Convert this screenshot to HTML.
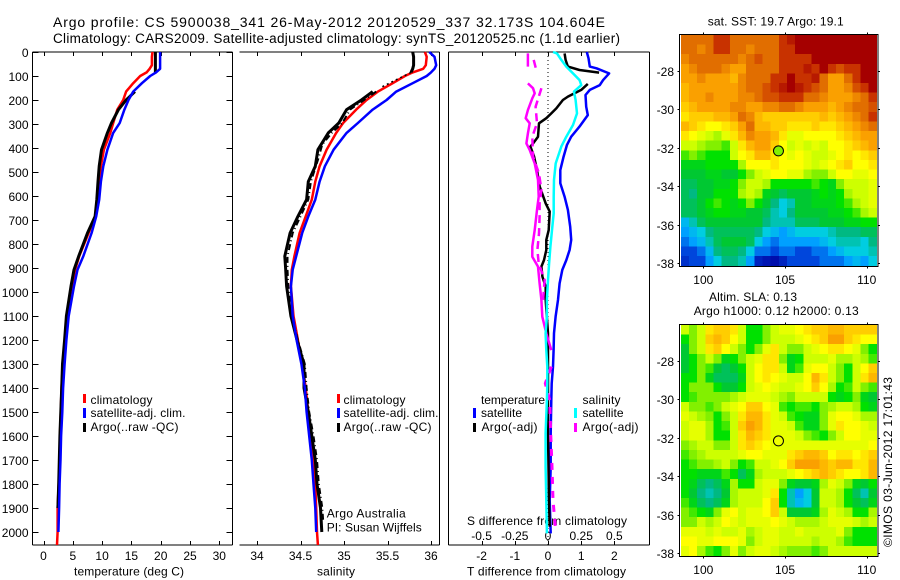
<!DOCTYPE html>
<html><head><meta charset="utf-8"><title>Argo profile</title>
<style>
html,body{margin:0;padding:0;background:#fff;width:900px;height:580px;overflow:hidden}
svg{display:block}
text{font-family:"Liberation Sans",sans-serif;font-size:12px;fill:#000}
</style></head>
<body>
<svg id="fig" xmlns="http://www.w3.org/2000/svg" width="900" height="580" viewBox="0 0 900 580">
<text x="53" y="27" style="font-size:14px" textLength="552" lengthAdjust="spacing">Argo profile: CS 5900038_341 26-May-2012 20120529_337 32.173S 104.604E</text>
<text x="53" y="43" style="font-size:13.5px" textLength="567" lengthAdjust="spacing">Climatology: CARS2009. Satellite-adjusted climatology: synTS_20120525.nc (1.1d earlier)</text>
<text x="74" y="575.5" textLength="110" lengthAdjust="spacing">temperature (deg C)</text>
<text x="317" y="575.5" textLength="38" lengthAdjust="spacing">salinity</text>
<text x="467" y="575.5" textLength="159" lengthAdjust="spacing">T difference from climatology</text>
<text x="467" y="525" textLength="160" lengthAdjust="spacing">S difference from climatology</text>
<text x="90.5" y="404" textLength="62" lengthAdjust="spacing">climatology</text>
<text x="90.5" y="417" textLength="95" lengthAdjust="spacing">satellite-adj. clim.</text>
<text x="90.5" y="431" textLength="88" lengthAdjust="spacing">Argo(..raw -QC)</text>
<rect x="83" y="394" width="3" height="9" fill="#f00"/>
<rect x="83" y="408" width="3" height="10" fill="#00f"/>
<rect x="83" y="423" width="3" height="9" fill="#000"/>
<text x="343.5" y="404" textLength="62" lengthAdjust="spacing">climatology</text>
<text x="343.5" y="417" textLength="95" lengthAdjust="spacing">satellite-adj. clim.</text>
<text x="343.5" y="431" textLength="88" lengthAdjust="spacing">Argo(..raw -QC)</text>
<rect x="337" y="394" width="3" height="9" fill="#f00"/>
<rect x="337" y="408" width="3" height="10" fill="#00f"/>
<rect x="337" y="423" width="3" height="9" fill="#000"/>
<text x="326.7" y="517.5" textLength="79" lengthAdjust="spacing">Argo Australia</text>
<text x="326.7" y="531.5" textLength="95" lengthAdjust="spacing">PI: Susan Wijffels</text>
<text x="481" y="404" textLength="64" lengthAdjust="spacing">temperature</text>
<text x="481" y="417" textLength="41" lengthAdjust="spacing">satellite</text>
<text x="481.5" y="431" textLength="56" lengthAdjust="spacing">Argo(-adj)</text>
<text x="582.5" y="404" textLength="38" lengthAdjust="spacing">salinity</text>
<text x="582.5" y="417" textLength="41" lengthAdjust="spacing">satellite</text>
<text x="582.5" y="431" textLength="56" lengthAdjust="spacing">Argo(-adj)</text>
<rect x="473" y="408" width="3" height="10" fill="#00f"/>
<rect x="473" y="423" width="3" height="9" fill="#000"/>
<rect x="574" y="408" width="3" height="10" fill="#0ff"/>
<rect x="574" y="423" width="3" height="9" fill="#f0f"/>
<text x="707.7" y="25.5" textLength="136" lengthAdjust="spacing">sat. SST: 19.7 Argo: 19.1</text>
<text x="709" y="301" textLength="88" lengthAdjust="spacing">Altim. SLA: 0.13</text>
<text x="693.7" y="315" textLength="165" lengthAdjust="spacing">Argo h1000: 0.12 h2000: 0.13</text>
<text transform="translate(892,547) rotate(-90)" x="0" y="0" textLength="170" lengthAdjust="spacing">©IMOS 03-Jun-2012 17:01:43</text>
</svg>
<script>
// ---------- profile data ----------
const profileDepths = [0,20,55,70,85,100,130,165,200,240,296,337,407,476,540,615,685,754,851,907,976,1100,1200,1300,1400,1500,1600,1700,1800,1900,2000,2054];
const tempClim = [18.6,18.5,18.5,18.1,17.6,16.5,15.3,14.1,13.6,12.6,11.9,11.4,10.3,9.8,9.5,9.3,8.8,7.7,6.1,5.4,4.9,4.0,3.7,3.3,3.07,2.95,2.8,2.75,2.6,2.4,2.4,2.3];
const tempSat = [19.9,19.9,19.9,19.9,19.2,18.2,16.8,15.3,14.5,13.8,13.0,11.9,10.9,10.2,9.8,9.5,9.0,8.2,6.8,5.8,5.2,4.3,3.9,3.6,3.35,3.2,3.0,2.9,2.75,2.67,2.55,null];
const tempArgo = [19.1,19.1,19.1,19.1,19.1,null,null,15.6,14.1,12.8,11.6,10.9,9.9,9.5,9.3,9.1,8.8,7.5,6.0,5.2,4.7,3.9,3.6,3.25,3.1,2.95,2.8,2.7,2.6,2.45,null,null];
const salClim = [35.93,35.95,35.94,35.91,35.79,35.70,35.56,35.39,35.26,35.14,34.99,34.91,34.80,34.72,34.67,34.63,34.56,34.49,34.43,34.40,34.39,34.42,34.47,34.52,34.56,34.59,34.62,34.65,34.67,34.68,34.69,34.70];
const salSat = [35.98,36.04,36.06,36.04,36.00,35.95,35.79,35.60,35.49,35.33,35.16,35.03,34.88,34.78,34.72,34.67,34.59,34.52,34.45,34.41,34.39,34.41,34.455,34.51,34.55,34.57,34.60,34.63,34.65,34.67,34.68,null];
const salArgo = [35.79,35.80,35.80,35.79,35.77,null,null,35.33,35.20,35.03,34.94,34.82,34.70,34.67,34.59,34.57,34.47,34.38,34.32,34.33,34.34,34.39,34.46,34.54,34.54,34.59,34.63,34.67,34.69,34.73,34.745,null];
const salQcDepths = [165,200,240,296,337,385,450,540,615,685,754,851,907,976,1100,1200,1300,1400,1500,1600,1700,1800,1900,1950];
const salQc = [35.37,35.23,35.07,34.98,34.86,34.75,34.70,34.62,34.59,34.50,34.41,34.35,34.35,34.36,34.40,34.47,34.55,34.57,34.60,34.65,34.69,34.71,34.75,34.76];
const salRawDepths = [85,150];
const salRaw = [35.77,35.41];

const tdiffSatDepths = [0,26,61,68,89,117,138,158,179,228,263,311,353,388,436,492,547,603,658,728,783,825,867,908,964,1033,1103,1172,1242,1311,1381,1450,1589,1728,1867,2006];
const tdiffSat = [1.17,1.22,1.26,1.46,1.84,1.66,1.56,1.26,1.13,1.15,1.20,.95,.70,.57,.47,.37,.37,.50,.60,.67,.70,.65,.55,.43,.35,.30,.23,.18,.17,.15,.11,.10,.08,.08,.05,.08];
const tdiffArgoDepths = [6,33,61,75,86,110,133,158,186,200,235,256,276,297,353,381,394,436,492,561,631,665,742,783,825,867,894,936,978,1033,1172,1450,1589,1867,1978];
const tdiffArgo = [.50,.53,.60,.95,1.54,null,1.20,1.00,.60,.45,.25,.10,-.05,-.27,-.30,-.45,-.53,-.42,-.33,-.25,-.07,.05,.02,-.05,-.05,-.12,-.20,-.17,-.07,-.07,0,0,0,.03,.05];
const sdiffSatDepths = [0,6,33,61,89,117,138,165,200,256,304,353,394,464,533,603,672,742,811,881,950,1033,1103,1172,1242,1311,1381,1450,1589,1728,1867,2006];
const sdiffSat = [.038,.068,.10,.138,.188,.238,.251,.196,.208,.218,.188,.138,.10,.058,.045,.043,.043,.03,.018,.008,0,-.008,-.008,-.018,-.013,-.005,-.005,-.008,-.018,-.018,-.013,-.008];
const sdiffArgoDepths = [6,61,100,131,151,172,193,242,276,297,339,381,408,464,533,603,658,742,811,853,894,964,1033,1103,1172,1242];
const sdiffArgo = [-.151,-.151,null,-.151,-.113,-.10,-.118,-.151,-.168,-.138,-.151,-.163,-.138,-.10,-.075,-.07,-.083,-.10,-.118,-.118,-.075,-.063,-.05,-.043,-.013,.025];
const sdiffDeepDepths = [1311,1381,1450,1589,1728,1867,1978];
const sdiffDeep = [.025,-.02,.013,.02,.03,.038,.055];
const sdiffRawDepths = [33,75,117,151,228,297,353,436,506,575,631,686,756,825,881,950,1033];
const sdiffRaw = [-.108,-.088,null,-.05,-.093,-.083,-.118,-.113,-.068,-.05,-.063,-.063,-.068,-.08,-.07,-.025,-.038];

// ---------- tick labels ----------
const depthTicks = [0,100,200,300,400,500,600,700,800,900,1000,1100,1200,1300,1400,1500,1600,1700,1800,1900,2000];
const tempTicks = [0,5,10,15,20,25,30];
const salTicks = [34,34.5,35,35.5,36];
const tdiffTicks = [-2,-1,0,1,2];
const sdiffTicks = [-0.5,-0.25,0,0.25,0.5];
const lonTicks = [100,105,110];
const latTicks = [-28,-30,-32,-34,-36,-38];

// ---------- map data: colour level per 0.5 degree cell, north to south ----------
const gridLon0 = 98.87;
const gridLat0 = -26.39;
const gridStep = 0.5;
const argoLon = 104.6;
const argoLat = -32.17;
const sstArgoLevel = 7;
const slaArgoLevel = 8.7;
const sstLevels = [
[12,12,12,12,13,13,12,12,12,12,12,12,13,13.5,14,14,14,14,14,14,14,14,14,14],
[12,12,11.5,12,13,13,12,12,11.5,12,12,12,13,13,14,14,14,14,14,14,14,14,14,14],
[11.5,12,12,12,12,12,12,11.5,12,12.5,12,12,13,13,13,13,14,14,14,14,14,14,14,14],
[11,11.5,12,12,12,11.5,11,11,12,12,12,12,13,13,13,13.5,13,14,13,12.5,13,13,14,14],
[11,11,11.5,11,11,11,10.5,11.5,12,12,12,13,13,14,13,13,13.5,12,11,11,12,13,14,14],
[10.5,11,11,11,11,11,11,11.5,12,12,12.5,13,13.5,14,13.5,13,12.5,12,11,11,11.5,12.5,13,14],
[10.5,11,11,11.5,11,11,11,11.5,11.5,12,12.5,12.5,13,13,13,12,12,11.5,11,11,11,11.5,12,13],
[10,10.5,11,11,11,11,11.5,11.5,11,11,11.5,11.5,12,12,11.5,11,11,11,10.5,11,11.5,12,12,12.5],
[9.5,10,10,10,10.5,10.5,11,12,11.5,10.5,10,10,10,10,10,10,10,10.5,10,10.5,11,11.5,12,13],
[10.5,10,9.5,9,9,9.5,10,11,12,10.5,10.5,10,10,9.5,9.5,9.5,10,9.5,9.5,10,10.5,11,11.5,12],
[9.5,9,8.5,8,7.5,8.5,9.5,10.5,11.5,11,11,10.5,9.5,8.5,8.5,9,9,9,9,9.5,10,10.5,11,11],
[8,8,7.5,7,7,6.5,8,9.5,10.5,11,11,10,9,8,8.5,8,8.5,8,9,9,9.5,10,10.5,11],
[6.5,7,6.5,6,6,6,8,9,9.5,10.5,10.5,9.5,9,8.5,9,8.5,8,8,8.5,9,9.5,9,9.5,10],
[5.5,5.5,5.5,6,6,6,6,7.5,9,9,9,9.5,9,9,9,8.5,8,8.5,9,9.5,10,9,9,9.5],
[5,5,5,5.5,5.5,5,5,6,7,8,8.5,9,9,8.5,8.5,7.5,7,7,8,9,9,8.5,8.5,9],
[4.5,4.5,5,5,5.5,5.5,6,7,8,8,7.5,6,6,6,6,6,6.5,6,5.5,7,8,8,8,8.5],
[4.5,4,5,5,6,6,6,7.5,8,7.5,5.5,5,4.5,5,5,5,5.5,6,5.5,6,7.5,8,8,8.5],
[4.5,4.5,5,6,6.5,6,5.5,6,7,6,5,4,3,3.5,5,5,5.5,5.5,5.5,6,6.5,7.5,8,8.5],
[4.5,4.5,5,5.5,6,6,5.5,5.5,5,5,4.5,3.5,3,4,5,5,5,5,5.5,5.5,6,6.5,7.5,8],
[2.5,3.5,4.5,5,5,5,5,5,5,5,4,3.5,3.5,3.5,4.5,4.5,4.5,5,5,5,5.5,5.5,6,6],
[2,2.5,3,4,4.5,4.5,4.5,4.5,4.5,4,3,2.5,2,2.5,3,3,3,3,3.5,4,4,4,4.5,4.5],
[1.5,2,2.5,3.5,4.5,5,5,5,4.5,3,2,1.5,2,2,2,2,2,2.5,3,3.5,3.5,3.5,3,4],
[1,1,1.5,2.5,4,4.5,4.5,4,3,1.5,1.5,1,1.5,1.5,1,1,1.5,1.5,2,2.5,3,3,3,3.5],
[0.7,1,1,2,3,4,4,3.5,2,0.5,0.3,0.2,0.5,1,1,1,1,1.5,1.5,1.5,2,2.5,2,3]
];
const slaLevels = [
[8,7,8,9.5,10,10,9.5,8,6,6,7,8,8.5,8.5,9,9.5,10,10,10.5,10.5,10,10,10,10],
[6,7,8,10,10.5,10,9,8,6,6,7,8,8,8,8.5,9,9.5,10,11,11,10,9.5,9,9],
[5,7,8,9.5,10,9,8,7,6,7,8.5,9.5,8,7,7,8,8.5,9,9.5,9.5,9,8.5,7,6],
[5,6,7,8,7,5.5,6,7,8,8.5,9.5,9.5,7,5.5,6,8,8,8,8.5,7.5,7.5,8,7.5,6.5],
[5,6,7,6.5,5,4.5,5,6,8,9,9.5,9.5,8,5.5,6.5,8.5,9,9,8,7,6,8,9,10],
[6,6,7,5.5,4.5,4.5,4.5,5.5,8,9,9.5,9,8.5,8,8,9,10.5,9.5,8,7,6,8,9.5,10.5],
[6,7,7,7,6,5,5,6,8,8.5,9,8.5,8,8,8.5,9,10,9,7.5,6,6.5,8,7,6.5],
[6,6.5,7,7,7,7,7.5,8,8.5,8.5,8.5,8,7.5,7,8,8,8,8,6,5.5,6,7,5.5,5],
[8,7,7,6.5,7,8,8.5,9,10,10,9,8.5,6.5,6,6.5,6.5,6,7,7.5,8,8,7.5,6,5.5],
[8.5,8,7.5,7,6,7,8,9.5,10.5,10.5,9.5,8.5,8,6.5,6,5.5,5.5,7,8.5,9,9,8.5,7.5,7.5],
[8,8.5,8.5,7.5,6,6.5,8,10,11,10.5,9.5,8.5,8.5,8,6.5,5.5,5.5,7,8.5,9.5,9,9,8.5,8],
[8,8.5,8.5,7.5,6,6,8,9.5,10.5,10,9.5,8.5,8.5,8.5,8,7,6.5,6,7,8,9,9,8.5,8.5],
[7,7.5,8,8,7,7,8,9.5,10,9.5,9,8.5,8.5,8.5,8.5,8.5,8.5,8.5,8.5,8.5,8.5,8.5,8.5,9],
[6.5,7,7.5,8,8,8,8,8.5,9,9,8.5,8.5,8.5,9.5,10,10.5,10.5,10,9,9.5,9.5,9,9.5,10],
[6,6.5,7,7,7.5,8,7,6,6.5,8,8,8.5,9,10,11,11,11,10.5,10,10.5,10.5,9.5,9.5,10.5],
[6,6,5.5,5.5,5.5,6.5,6,4.5,5.5,7.5,8,8,8,8.5,9,9.5,10,10.5,10,9.5,9,9,9.5,10.5],
[6,5.5,4.5,4,4.5,5.5,7.5,6,6,8,8.5,8.5,7,5.5,5,5,5.5,7.5,8.5,8,7,5.5,5,6],
[6,5,4,3.5,4,5,7.5,8,8,8,8.5,9.5,6,3.5,2,3,5,8,8,7.5,6,4.5,3.5,5],
[6.5,5.5,4.5,4,4.5,5.5,7.5,8,8,8,9,10,6,3.5,2.5,3,5,8,8,7.5,6,5,4.5,5.5],
[7,6.5,6,5.5,7,8.5,9,8,8.5,8.5,9,10,8,5,5,5,5.5,7.5,8.5,8,7.5,6,6,7.5],
[7,7,8,7.5,8,9,8.5,8,8.5,8.5,8.5,9,8.5,8,7.5,7.5,7.5,8,8.5,8.5,8.5,8,7.5,8],
[8.5,8.5,8.5,8,8.5,8,8,8.5,7.5,8,8.5,8.5,8,8,8.5,8,8,8,8,8.5,7,6,6,6],
[9,9,8.5,8.5,9,9,9,8.5,7,8,8.5,8.5,8,8,8,8,7.5,8,8,7.5,6.5,6,6,6],
[8.5,9,7.5,6.5,6,7,8.5,7,8,8.5,8.5,8,7.5,7,7,7,6.5,7,8,8,8,8,8,8]
];

// ---------- axis functions ----------
const svg = document.getElementById('fig');
const NS = 'http://www.w3.org/2000/svg';
const axisTop = 52, axisBottom = 545;
const yDepth = d => axisTop + d * 0.24;
const xTemp = t => 43.5 + t * 5.86;
const xSal = s => 257 + (s - 34) * 87;
const xTdiff = t => 548 + t * 33.2;
const xSdiff = s => 548 + s * 132.8;
const xLon = lon => 703.3 + (lon - 100) * 16.34;
const yLat = (lat, off) => off + 70.7 + (-28 - lat) * 19.23;

function make(tag, attrs, parent) {
  const el = document.createElementNS(NS, tag);
  for (const k in attrs) el.setAttribute(k, attrs[k]);
  (parent || svg).appendChild(el);
  return el;
}
function segLine(x1, y1, x2, y2, parent) {
  return make('line', {x1, y1, x2, y2, stroke:'#000', 'stroke-width':1, 'shape-rendering':'crispEdges'}, parent);
}
function label(str, x, y, anchor, parent) {
  const t = make('text', {x, y, 'text-anchor':anchor}, parent);
  t.textContent = str;
  return t;
}
function drawSeries(name, depths, vals, xf, color, width, dash) {
  let d = '', pen = false;
  vals.forEach((v, i) => {
    if (v === null) { pen = false; return; }
    d += (pen ? 'L' : 'M') + xf(v).toFixed(1) + ' ' + yDepth(depths[i]).toFixed(1);
    pen = true;
  });
  const p = make('path', {d, fill:'none', stroke:color, 'stroke-width':width, 'stroke-linejoin':'round'});
  if (dash) p.setAttribute('stroke-dasharray', dash);
  
  
  return p;
}
function panelFrame(name, left, right, hasLeft, hasRightTicks, ticks, xf) {
  const g = make('g', {});
  
  
  segLine(left, axisTop, right, axisTop, g);
  segLine(left, axisBottom, right, axisBottom, g);
  segLine(right, axisTop, right, axisBottom, g);
  if (hasLeft) segLine(left, axisTop, left, axisBottom, g);
  ticks.forEach(t => {
    const x = Math.round(xf(t)) + 0.5;
    segLine(x, axisTop, x, axisTop + 4, g);
    segLine(x, axisBottom - 4, x, axisBottom, g);
  });
  if (hasRightTicks) {
    depthTicks.forEach(d => {
      const y = Math.round(yDepth(d)) + 0.5;
      segLine(left, y, left + 6, y, g);
      segLine(right - 6, y, right, y, g);
      label(String(d), left - 4, y + 4.5, 'end', g);
    });
  }
  return g;
}

// ---------- temperature panel ----------
panelFrame('temperature-axes', 32.5, 232.5, true, true, tempTicks, xTemp);
tempTicks.forEach(t => {
  const el = label(String(t), xTemp(t), 560, 'middle');
  
  
});
drawSeries('temperature-climatology-line', profileDepths, tempClim, xTemp, '#f00', 2.5);
drawSeries('temperature-argo-line', profileDepths, tempArgo, xTemp, '#000', 3);
drawSeries('temperature-satellite-line', profileDepths, tempSat, xTemp, '#00f', 2.5);

// ---------- salinity panel ----------
panelFrame('salinity-axes', 239.5, 439.5, false, false, salTicks, xSal);
salTicks.forEach(t => {
  const el = label(String(t), xSal(t), 560, 'middle');
  
  
});
drawSeries('salinity-climatology-line', profileDepths, salClim, xSal, '#f00', 2.5);
drawSeries('salinity-argo-qc-line', salQcDepths, salQc, xSal, '#000', 2, '6 3 1 3');
drawSeries('salinity-argo-raw-dotted-line', salRawDepths, salRaw, xSal, '#000', 1.5, '2 3');
drawSeries('salinity-argo-line', profileDepths, salArgo, xSal, '#000', 3);
drawSeries('salinity-satellite-line', profileDepths, salSat, xSal, '#00f', 2.5);

// ---------- difference panel ----------
panelFrame('difference-axes', 448.5, 649.5, true, false, tdiffTicks, xTdiff);
tdiffTicks.forEach(t => {
  const el = label(String(t), xTdiff(t), 560, 'middle');
  
  
});
sdiffTicks.forEach(t => {
  const el = label(String(t), xSdiff(t), 540, 'middle');
  
  
});
const zeroLine = make('line', {x1:xTdiff(0), y1:axisTop, x2:xTdiff(0), y2:axisBottom, stroke:'#000', 'stroke-width':1, 'stroke-dasharray':'1 3'});


drawSeries('t-difference-satellite-line', tdiffSatDepths, tdiffSat, xTdiff, '#00f', 2.5);
drawSeries('t-difference-argo-line', tdiffArgoDepths, tdiffArgo, xTdiff, '#000', 2.5);
drawSeries('s-difference-argo-line', sdiffArgoDepths, sdiffArgo, xSdiff, '#f0f', 2.5);
drawSeries('s-difference-argo-deep-line', sdiffDeepDepths, sdiffDeep, xSdiff, '#f0f', 3, '7 7');
drawSeries('s-difference-argo-raw-line', sdiffRawDepths, sdiffRaw, xSdiff, '#f0f', 2.5, '8 5');
drawSeries('s-difference-satellite-line', sdiffSatDepths, sdiffSat, xSdiff, '#0ff', 2.5);

// ---------- maps ----------
const palette = [[0,0,160],[0,70,220],[0,160,255],[0,205,225],[0,185,130],[0,200,50],[0,225,0],[130,240,0],[205,255,0],[255,255,0],[255,205,0],[250,160,0],[225,110,0],[200,50,0],[165,0,0]];
function levelColor(v) {
  const c = Math.max(0, Math.min(palette.length - 1, v));
  const i = Math.min(palette.length - 2, Math.floor(c));
  const f = c - i;
  const rgb = [0,1,2].map(k => Math.round(palette[i][k] + (palette[i + 1][k] - palette[i][k]) * f));
  return 'rgb(' + rgb.join(',') + ')';
}
function drawMap(name, levels, markerLevel, off) {
  const g = make('g', {});
  
  
  levels.forEach((row, r) => {
    row.forEach((v, c) => {
      const lon = gridLon0 + c * gridStep;
      const lat = gridLat0 - r * gridStep;
      const x1 = xLon(lon - gridStep / 2), x2 = xLon(lon + gridStep / 2);
      const y1 = yLat(lat + gridStep / 2, off), y2 = yLat(lat - gridStep / 2, off);
      const cell = make('rect', {x:x1.toFixed(2), y:y1.toFixed(2), width:(x2 - x1 + 0.4).toFixed(2), height:(y2 - y1 + 0.4).toFixed(2), fill:levelColor(v), 'shape-rendering':'crispEdges'}, g);
      
      
    });
  });
  const fx1 = 679.5, fx2 = 878, fy1 = off + 34.5, fy2 = off + 266.5;
  make('rect', {x:fx1, y:fy1, width:fx2 - fx1, height:fy2 - fy1, fill:'none', stroke:'#000', 'stroke-width':1, 'shape-rendering':'crispEdges'}, g);
  lonTicks.forEach(t => {
    const x = Math.round(xLon(t)) + 0.5;
    segLine(x, fy1 - 2, x, fy1, g);
    segLine(x, fy2, x, fy2 + 2, g);
    const el = label(String(t), xLon(t), off + 284, 'middle', g);
    
    
  });
  latTicks.forEach(t => {
    const y = Math.round(yLat(t, off)) + 0.5;
    segLine(fx1 - 2, y, fx1, y, g);
    segLine(fx2, y, fx2 + 2, y, g);
    const el = label(String(t), 674, y + 4.5, 'end', g);
    
    
  });
  const mark = make('circle', {cx:xLon(argoLon), cy:yLat(argoLat, off), r:5, fill:levelColor(markerLevel), stroke:'#000', 'stroke-width':1}, g);
  
  
}
drawMap('sst-map', sstLevels, sstArgoLevel, 0);
drawMap('sla-map', slaLevels, slaArgoLevel, 290);
</script>
</body></html>
